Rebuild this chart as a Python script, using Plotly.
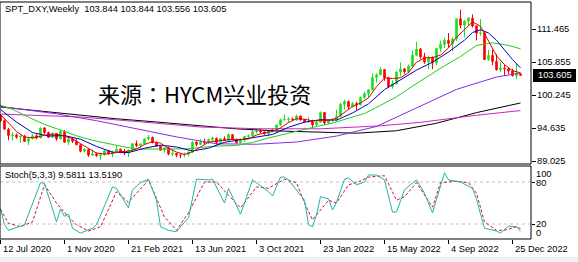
import plotly.graph_objects as go

W, H = 578, 262
FONT = "Liberation Sans"
FS = 9.3

# ---------------- data (weekly bars, index 0 = week of 12 Jul 2020) ----------------
opens = [96.65,95.91,94.44,93.35,93.44,93.09,93.24,92.36,92.82,93.33,
         92.94,94.64,93.85,93.06,93.69,92.77,94.04,92.23,92.76,92.39,
         91.79,90.70,90.98,90.02,90.22,89.94,90.10,90.77,90.24,90.58,
         91.04,90.48,90.36,90.88,91.98,91.67,91.92,92.77,93.02,92.16,
         91.56,90.85,91.28,90.22,90.31,90.03,90.03,90.14,90.55,92.23,
         91.84,92.23,92.12,92.67,92.90,92.17,92.80,92.52,93.50,92.68,
         92.13,92.58,93.20,93.33,94.04,94.08,93.97,93.64,94.12,94.32,
         95.13,96.03,96.09,96.18,96.09,96.68,96.02,95.67,95.72,95.17,
         95.64,97.27,95.48,96.03,96.04,96.62,98.66,99.13,98.23,98.79,
         98.57,99.80,100.50,101.12,103.20,103.66,104.56,103.19,101.68,102.14,
         104.15,104.69,104.20,105.14,107.01,108.07,106.73,105.85,106.62,105.69,
         108.16,108.82,109.54,109.00,109.76,113.19,112.12,112.80,113.31,111.99,
         110.75,110.80,106.29,106.97,105.96,104.55,104.83,104.71,104.32,103.52,
         103.844]
highs = [96.90,96.10,94.66,93.90,93.72,93.45,93.50,93.00,93.66,93.66,
         94.74,94.80,94.03,93.90,93.73,94.30,94.30,93.21,93.00,92.70,
         91.92,91.23,91.06,90.96,90.50,90.14,90.95,90.90,90.80,91.60,
         91.13,91.05,90.94,92.00,92.50,92.00,92.85,93.44,93.20,92.30,
         91.66,91.42,91.44,90.90,90.40,90.34,90.45,90.62,92.41,92.40,
         92.74,92.83,92.84,93.19,93.00,92.90,93.20,93.73,93.56,92.80,
         92.90,93.20,93.53,94.50,94.45,94.56,94.04,94.20,94.63,95.27,
         96.23,96.94,96.44,96.43,96.91,96.74,96.17,96.46,96.05,95.94,
         97.44,97.36,96.10,96.22,97.74,98.94,99.42,99.30,99.05,99.12,
         99.98,100.76,101.25,103.93,103.94,105.00,104.64,103.36,102.75,104.24,
         105.79,104.83,105.43,107.79,109.29,108.23,107.43,106.92,106.81,108.23,
         109.48,109.99,110.79,110.05,113.26,114.78,112.96,113.49,113.95,112.06,
         113.15,110.95,107.89,107.99,107.20,105.91,105.41,104.87,104.70,105.63,
         103.844]
lows = [95.65,94.34,92.55,92.52,92.80,92.13,92.32,91.75,92.70,92.70,
        92.84,93.60,92.95,92.98,92.47,92.72,92.13,91.75,92.09,91.75,
        90.50,90.47,89.74,89.90,89.72,89.21,89.92,90.10,89.68,90.41,
        90.36,90.01,89.68,90.63,91.38,91.30,91.83,92.55,92.00,91.45,
        90.80,90.42,89.98,89.86,89.65,89.53,89.67,89.80,90.40,91.51,
        91.74,91.86,91.91,92.40,91.78,91.85,92.47,92.45,92.60,91.94,
        92.10,92.29,92.80,93.23,93.75,93.75,93.50,93.28,93.88,93.87,
        95.07,95.90,95.52,95.85,95.85,95.91,95.53,95.62,94.63,95.00,
        95.62,95.14,95.25,95.63,95.80,96.50,97.73,97.71,98.22,97.69,
        98.41,99.57,99.82,101.05,102.35,103.59,102.66,101.43,101.30,102.07,
        103.40,103.87,103.92,104.92,106.82,106.38,105.54,104.63,104.64,105.27,
        107.58,108.19,108.36,107.68,109.36,111.58,110.06,112.06,111.69,109.54,
        110.26,106.27,106.05,105.32,104.38,104.13,103.45,103.79,103.38,102.94,
        103.556]
closes = [95.91,94.44,93.35,93.44,93.09,93.24,92.36,92.82,93.33,92.94,
          94.64,93.85,93.06,93.69,92.77,94.04,92.23,92.76,92.39,91.79,
          90.70,90.98,90.02,90.22,89.94,90.10,90.77,90.24,90.58,91.04,
          90.48,90.36,90.88,91.98,91.67,91.92,92.77,93.02,92.16,91.56,
          90.85,91.28,90.22,90.31,90.03,90.03,90.14,90.55,92.23,91.84,
          92.23,92.12,92.67,92.90,92.17,92.80,92.52,93.50,92.68,92.13,
          92.58,93.20,93.33,94.04,94.08,93.97,93.64,94.12,94.32,95.13,
          96.03,96.09,96.18,96.09,96.68,96.02,95.67,95.72,95.17,95.64,
          97.27,95.48,96.03,96.04,96.62,98.66,99.13,98.23,98.79,98.57,
          99.80,100.50,101.12,103.20,103.66,104.56,103.19,101.68,102.14,104.15,
          104.69,104.20,105.14,107.01,108.07,106.73,105.85,106.62,105.69,108.16,
          108.82,109.54,109.00,109.76,113.19,112.12,112.80,113.31,111.99,110.75,
          110.80,106.29,106.97,105.96,104.55,104.83,104.71,104.32,103.52,103.89,
          103.605]
weeks = list(range(len(closes)))

# moving averages (week index, value)
ma_red_weeks = list(range(0, 131, 2))
ma_red = [96.96,95.51,94.05,93.10,92.97,93.22,93.56,93.60,93.16,92.84,
          91.97,91.18,90.37,90.21,90.33,90.62,90.67,91.07,91.84,92.31,
          92.07,91.21,90.54,90.15,90.60,91.40,92.22,92.42,92.61,92.73,
          92.68,92.78,93.45,93.81,94.03,94.65,95.55,96.21,96.13,95.85,
          95.89,95.92,96.29,97.30,98.29,98.90,99.76,101.66,103.15,103.05,
          103.17,104.06,105.82,106.56,106.59,107.03,108.24,110.06,111.37,112.68,
          111.93,109.36,106.91,105.40,104.39,104.01]
ma_blue_weeks = [0,4,8,12,16,20,24,28,32,36,40,44,48,52,56,60,64,68,72,76,
                 80,84,88,92,96,100,104,108,112,116,118,120,122,124,128,130]
ma_blue = [97.77,95.64,93.86,93.28,93.34,92.73,91.51,90.53,90.46,91.19,
           91.72,91.41,90.72,91.22,92.20,92.61,93.09,93.54,94.76,95.63,
           96.05,95.97,97.19,98.75,101.16,102.89,104.48,105.82,107.55,109.57,
           110.87,111.33,110.80,109.55,106.27,104.86]
ma_green_weeks = [-1,3,7,11,15,19,23,27,31,35,39,43,47,51,55,59,63,67,71,75,
                  79,83,87,91,95,99,103,107,111,115,119,123,127,130]
ma_green = [98.74,97.82,96.48,95.24,94.29,93.31,92.55,92.02,91.41,91.05,
            91.07,91.11,91.09,91.39,91.59,91.66,92.18,92.94,93.60,94.32,
            94.89,95.47,96.31,97.11,98.49,99.94,101.75,103.48,105.21,106.79,
            108.67,109.12,108.68,108.10]
ma_purple_weeks = [0,4,14,24,34,44,54,64,74,84,94,104,114,124,130]
ma_purple = [98.3,97.95,97.04,95.88,94.56,93.12,91.95,91.87,92.26,93.26,
             94.9,98.0,101.2,103.3,104.0]
ma_magenta_weeks = [0,20,33,50,65,80,95,105,119,130]
ma_magenta = [97.0,96.5,95.8,94.8,94.5,94.5,95.0,95.6,96.8,97.6]
ma_black_weeks = [0,10,19,29,39,49,59,69,79,89,99,109,119,125,130]
ma_black = [98.2,97.5,96.78,96.2,95.66,95.1,94.49,94.14,93.89,93.75,
            94.17,95.44,97.25,98.1,98.89]

# Stochastic(5,3,3)
stoch_k_weeks = [0,1,2,5,6,10,11,14,15,16,17,18,20,23,24,28,29,32,33,35,37,39,40,42,44,
                 47,49,52,53,56,57,60,63,67,68,70,71,72,73,74,76,77,78,79,80,82,83,84,
                 86,87,89,91,92,94,96,98,99,101,104,106,108,111,112,115,118,119,120,121,
                 124,125,127,129,130]
stoch_k = [42,19,11,17,19,79,78,23,41,31,34,14,7,14,19,73,71,43,69,79,84,54,16,11,9,
           29,84,83,84,50,71,34,83,66,60,87,87,83,76,69,54,19,16,33,59,56,40,51,
           84,86,76,80,90,90,83,37,37,69,83,64,36,93,83,80,71,55,36,14,
           10,7,17,16,9.58]
stoch_d_weeks = [0,2,5,8,11,14,17,19,22,25,29,32,37,41,44,47,51,54,57,60,64,67,71,74,76,
                 78,80,82,84,87,89,92,96,99,101,104,108,110,114,117,119,121,124,126,129,130]
stoch_d = [41,21,16,23,76,50,30,19,10,16,66,51,83,30,11,36,80,80,61,43,73,71,84,79,50,
           26,40,54,50,76,79,87,89,54,59,79,44,79,81,79,64,23,11,11,16,13.52]

price_ticks = [89.025, 94.635, 100.245, 105.855, 111.465]
stoch_levels = [100, 80, 20, 0]
date_ticks = [0, 16, 32, 48, 64, 80, 96, 112, 128]
date_labels = ["12 Jul 2020", "1 Nov 2020", "21 Feb 2021", "13 Jun 2021", "3 Oct 2021",
               "23 Jan 2022", "15 May 2022", "4 Sep 2022", "25 Dec 2022"]
header_text = "SPT_DXY,Weekly\u00a0 103.844 103.844 103.556 103.605"
last_price = "103.605"
stoch_text = "Stoch(5,3,3) 9.5811 13.5190"
watermark = "来源：HYCM兴业投资"

# ---------------- layout helpers ----------------
def px(p):
    return p / W

def py(p):
    return 1 - p / H

X_RIGHT = 531
XRANGE = [-0.5 / 4, (X_RIGHT - 0.5) / 4]
MAIN_TOP, MAIN_BOT = 2, 164
ST_TOP, ST_BOT = 166, 239
YRANGE = [89.025 - (MAIN_BOT - 161) * 0.17, 89.025 + (161 - MAIN_TOP) * 0.17]
Y2RANGE = [(238 - ST_BOT) / 0.7, (238 - ST_TOP) / 0.7]

GREEN = "#1ee01e"
RED = "#ff0000"

fig = go.Figure()
fig.add_trace(go.Candlestick(
    x=weeks, open=opens, high=highs, low=lows, close=closes,
    increasing=dict(line=dict(color=GREEN, width=1), fillcolor=GREEN),
    decreasing=dict(line=dict(color=RED, width=1), fillcolor=RED),
    whiskerwidth=0, hoverinfo="skip", showlegend=False, xaxis="x", yaxis="y"))

for wk, vals, col in [
    (ma_black_weeks, ma_black, "#000000"),
    (ma_magenta_weeks, ma_magenta, "#cc22cc"),
    (ma_purple_weeks, ma_purple, "#8a2be2"),
    (ma_green_weeks, ma_green, "#22cc22"),
    (ma_blue_weeks, ma_blue, "#0000c0"),
    (ma_red_weeks, ma_red, "#e00000"),
]:
    fig.add_trace(go.Scatter(x=wk, y=vals, mode="lines", line=dict(color=col, width=1),
                             hoverinfo="skip", showlegend=False, xaxis="x", yaxis="y"))

fig.add_trace(go.Scatter(x=stoch_d_weeks, y=stoch_d, mode="lines",
                         line=dict(color="#d0103a", width=1, dash="3px,2px"),
                         hoverinfo="skip", showlegend=False, xaxis="x2", yaxis="y2"))
fig.add_trace(go.Scatter(x=stoch_k_weeks, y=stoch_k, mode="lines",
                         line=dict(color="#20b2aa", width=1),
                         hoverinfo="skip", showlegend=False, xaxis="x2", yaxis="y2"))

shapes = [
    dict(type="rect", xref="paper", yref="paper", x0=0, x1=1, y0=0, y1=py(257),
         fillcolor="#f0f0f0", line=dict(width=0), layer="below"),
    dict(type="rect", xref="paper", yref="paper", x0=px(0), x1=px(X_RIGHT),
         y0=py(MAIN_BOT), y1=py(MAIN_TOP), line=dict(color="black", width=1)),
    dict(type="rect", xref="paper", yref="paper", x0=px(0), x1=px(X_RIGHT),
         y0=py(ST_BOT), y1=py(ST_TOP), line=dict(color="black", width=1)),
    dict(type="rect", xref="paper", yref="paper", x0=px(533), x1=px(576),
         y0=py(82), y1=py(69), fillcolor="black", line=dict(width=0)),
]
for lv in [80, 20]:
    shapes.append(dict(type="line", xref="paper", yref="y2", x0=0, x1=px(X_RIGHT),
                       y0=lv, y1=lv, line=dict(color="#cdbcbc", width=1, dash="3px,3px"),
                       layer="below"))

ann = []
def text(x, y, s, size=FS, color="black", family=FONT, anchor="left", yref="paper"):
    ann.append(dict(x=x, y=y, xref="paper", yref=yref, text=s, showarrow=False,
                    xanchor=anchor, yanchor="middle", borderpad=0,
                    font=dict(family=family, size=size, color=color)))

text(px(4), py(9), header_text)
text(px(97), py(93), watermark, size=22, family="Noto Sans CJK TC, Noto Sans CJK SC")
text(px(4), py(175), stoch_text)
for v in price_ticks:
    text(px(536), v, f"{v:.3f}", yref="y")
text(px(537), py(75.5), last_price, color="white")
for lv, ypx in zip(stoch_levels, [174, 182.7, 224.3, 232.7]):
    text(px(535), py(ypx), str(lv))
for t, lab in zip(date_ticks, date_labels):
    xp = (4 * t + 0.5) / W
    text(xp + 1.5 / W, py(249), lab)

axis_common = dict(showgrid=False, zeroline=False, fixedrange=True)
fig.update_layout(
    width=W, height=H, margin=dict(l=0, r=0, t=0, b=0),
    paper_bgcolor="white", plot_bgcolor="white", boxgap=0.45,
    xaxis=dict(domain=[0, px(X_RIGHT)], range=XRANGE, showticklabels=False,
               rangeslider=dict(visible=False), anchor="y", **axis_common),
    yaxis=dict(domain=[py(MAIN_BOT), py(MAIN_TOP)], range=YRANGE, side="right",
               tickvals=price_ticks, ticks="outside", ticklen=4, tickcolor="black",
               showticklabels=False, anchor="x", **axis_common),
    xaxis2=dict(domain=[0, px(X_RIGHT)], range=XRANGE, anchor="y2",
                tickvals=date_ticks, ticks="outside", ticklen=4, tickcolor="black",
                showticklabels=False, **axis_common),
    yaxis2=dict(domain=[py(ST_BOT), py(ST_TOP)], range=Y2RANGE, side="right",
                tickvals=[20, 80], ticks="outside", ticklen=3, tickcolor="black",
                showticklabels=False, anchor="x2", **axis_common),
    shapes=shapes, annotations=ann, showlegend=False,
)

fig.write_html("out.html")
